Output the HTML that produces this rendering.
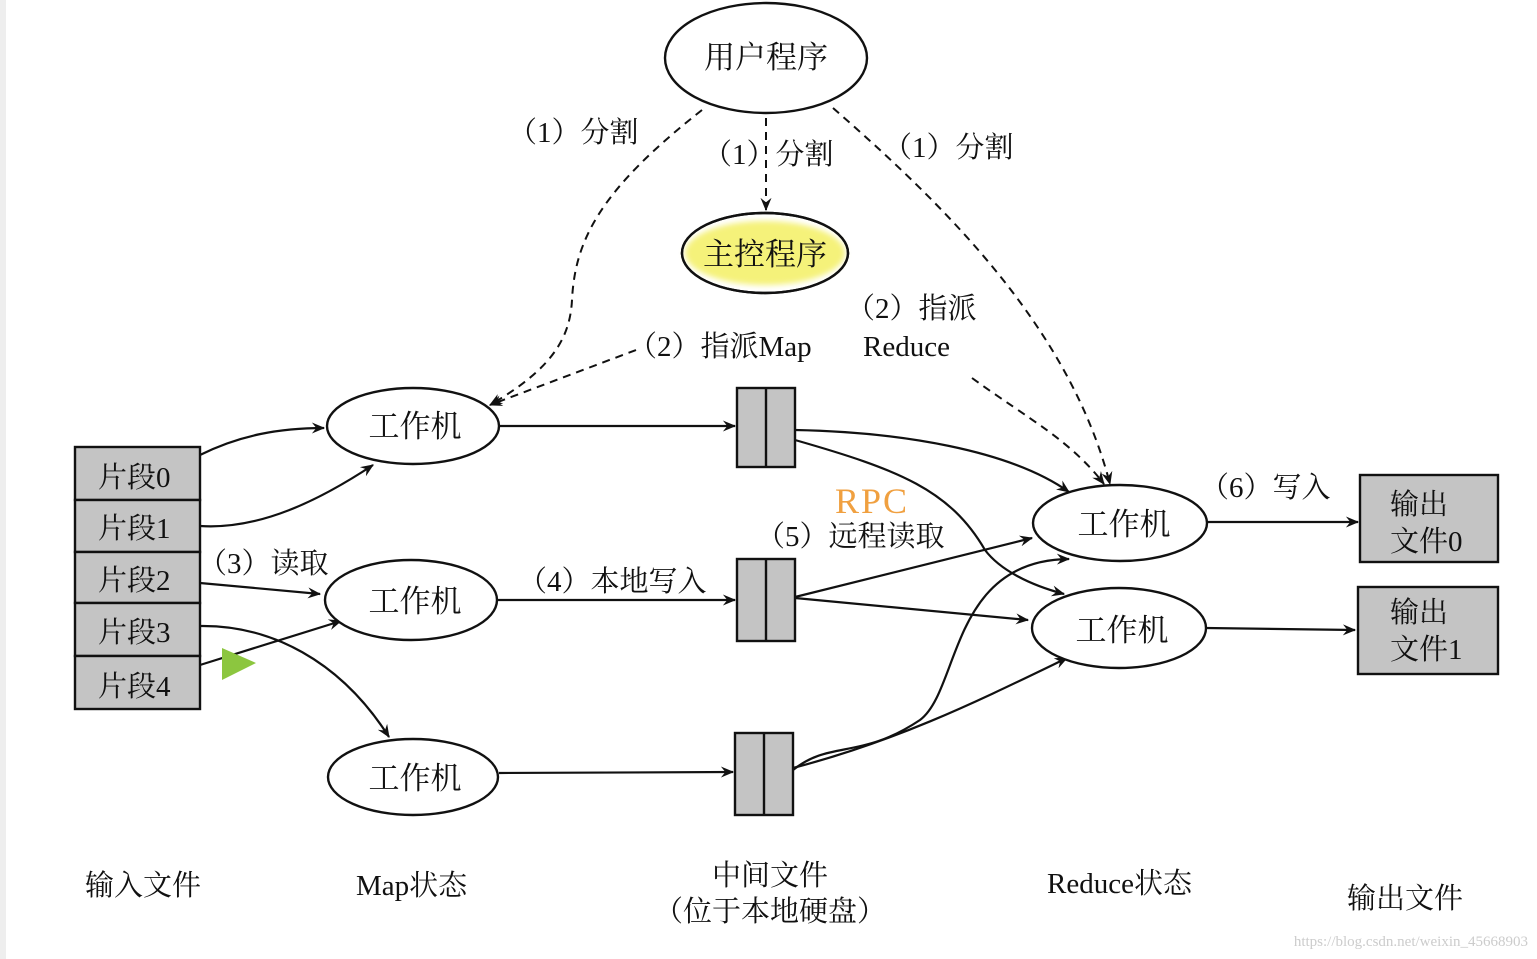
<!DOCTYPE html>
<html><head><meta charset="utf-8"><style>
html,body{margin:0;padding:0;background:#fff;width:1537px;height:959px;overflow:hidden}
svg text{font-family:"Liberation Serif","Noto Serif CJK SC","Noto Sans CJK SC",serif;fill:#111}
</style></head><body>
<svg width="1537" height="959" viewBox="0 0 1537 959" xmlns="http://www.w3.org/2000/svg">
<defs>
<marker id="a" viewBox="0 0 12 10" refX="11" refY="5" markerWidth="14" markerHeight="11" markerUnits="userSpaceOnUse" orient="auto">
<path d="M0,0 L12,5 L0,10 L4,5 z" fill="#111"/></marker>
<filter id="g"><feGaussianBlur stdDeviation="3"/></filter>
</defs>
<rect x="0" y="0" width="6" height="959" fill="#eee"/>
<g stroke="#111" stroke-width="2.2" fill="none">
<g stroke-dasharray="8,6" stroke-width="2">
<path d="M702,110 C600,190 575,240 572,300 C570,340 550,370 490,405" marker-end="url(#a)"/>
<path d="M766,118 L766,210" marker-end="url(#a)"/>
<path d="M833,108 C950,210 1070,330 1110,484" marker-end="url(#a)"/>
<path d="M636,350 L490,405" marker-end="url(#a)"/>
<path d="M972,378 C1030,420 1070,440 1104,484" marker-end="url(#a)"/>
</g>
<path d="M200,455 C240,435 280,428 324,428" marker-end="url(#a)"/>
<path d="M200,526 C260,530 320,500 373,465" marker-end="url(#a)"/>
<path d="M200,583 L320,594" marker-end="url(#a)"/>
<path d="M200,626 C270,625 340,660 389,737" marker-end="url(#a)"/>
<path d="M200,665 L341,621" marker-end="url(#a)"/>
<path d="M499,426 L735,426" marker-end="url(#a)"/>
<path d="M498,600 L735,600" marker-end="url(#a)"/>
<path d="M499,773 L733,772" marker-end="url(#a)"/>
<path d="M795,430 C900,432 1010,450 1069,492" marker-end="url(#a)"/>
<path d="M795,440 C900,470 950,490 985,550 C1000,570 1030,585 1064,594" marker-end="url(#a)"/>
<path d="M795,597 L1032,538" marker-end="url(#a)"/>
<path d="M795,598 L1028,620" marker-end="url(#a)"/>
<path d="M793,770 C830,740 860,760 920,720 C960,690 950,560 1069,559" marker-end="url(#a)"/>
<path d="M793,768 C900,740 980,700 1067,658" marker-end="url(#a)"/>
<path d="M1207,522 L1358,522" marker-end="url(#a)"/>
<path d="M1206,628 L1355,630" marker-end="url(#a)"/>
</g>
<g stroke="#111" stroke-width="2.4" fill="#fff">
<ellipse cx="766" cy="58" rx="101" ry="55"/>
<ellipse cx="765" cy="253" rx="83" ry="40" fill="#fff"/>
<ellipse cx="413" cy="426" rx="86" ry="38"/>
<ellipse cx="411" cy="600" rx="86" ry="40"/>
<ellipse cx="413" cy="777" rx="85" ry="38"/>
<ellipse cx="1120" cy="523" rx="87" ry="38"/>
<ellipse cx="1119" cy="628" rx="87" ry="40"/>
</g>
<ellipse cx="765" cy="253" rx="80" ry="32" fill="#f5f27a" filter="url(#g)"/>
<ellipse cx="765" cy="253" rx="83" ry="40" fill="none" stroke="#111" stroke-width="2.4"/>
<g stroke="#111" stroke-width="2.4" fill="#c4c4c4">
<rect x="75" y="447" width="125" height="53"/>
<rect x="75" y="500" width="125" height="52"/>
<rect x="75" y="552" width="125" height="51"/>
<rect x="75" y="603" width="125" height="53"/>
<rect x="75" y="656" width="125" height="53"/>
<rect x="737" y="388" width="58" height="79"/>
<rect x="737" y="559" width="58" height="82"/>
<rect x="735" y="733" width="58" height="82"/>
<rect x="1360" y="475" width="138" height="87"/>
<rect x="1358" y="587" width="140" height="87"/>
</g>
<g stroke="#111" stroke-width="2.4">
<line x1="766" y1="388" x2="766" y2="467"/>
<line x1="766" y1="559" x2="766" y2="641"/>
<line x1="764" y1="733" x2="764" y2="815"/>
</g>
<polygon points="222,648 256,663 222,680" fill="#8cc63f"/>
<g font-size="31">
<text x="766" y="68" text-anchor="middle">用户程序</text>
<text x="765" y="265" text-anchor="middle">主控程序</text>
<text x="415" y="437" text-anchor="middle">工作机</text>
<text x="415" y="612" text-anchor="middle">工作机</text>
<text x="415" y="789" text-anchor="middle">工作机</text>
<text x="1124" y="535" text-anchor="middle">工作机</text>
<text x="1122" y="641" text-anchor="middle">工作机</text>
</g>
<g font-size="29">
<text x="98" y="487">片段0</text>
<text x="98" y="538">片段1</text>
<text x="98" y="590">片段2</text>
<text x="98" y="642">片段3</text>
<text x="98" y="696">片段4</text>
<text x="1390" y="514">输出</text>
<text x="1390" y="551">文件0</text>
<text x="1390" y="622">输出</text>
<text x="1390" y="659">文件1</text>
</g>
<g font-size="29">
<text x="508" y="142">（1）分割</text>
<text x="703" y="164">（1）分割</text>
<text x="883" y="157">（1）分割</text>
<text x="628" y="356">（2）指派Map</text>
<text x="846" y="318">（2）指派</text>
<text x="863" y="356">Reduce</text>
<text x="198" y="573">（3）读取</text>
<text x="518" y="591">（4）本地写入</text>
<text x="756" y="546">（5）远程读取</text>
<text x="1200" y="497">（6）写入</text>
<text x="85" y="895">输入文件</text>
<text x="356" y="895">Map状态</text>
<text x="770" y="885" text-anchor="middle">中间文件</text>
<text x="770" y="921" text-anchor="middle">（位于本地硬盘）</text>
<text x="1047" y="893">Reduce状态</text>
<text x="1347" y="908">输出文件</text>
</g>
<text x="835" y="513" font-size="36" font-family="Liberation Sans,sans-serif" style="fill:#f0a040;font-weight:normal;letter-spacing:2px">RPC</text>
<text x="1528" y="946" font-size="15" text-anchor="end" font-family="Liberation Sans,sans-serif" style="fill:#ccc">https://blog.csdn.net/weixin_45668903</text>
</svg>
</body></html>
